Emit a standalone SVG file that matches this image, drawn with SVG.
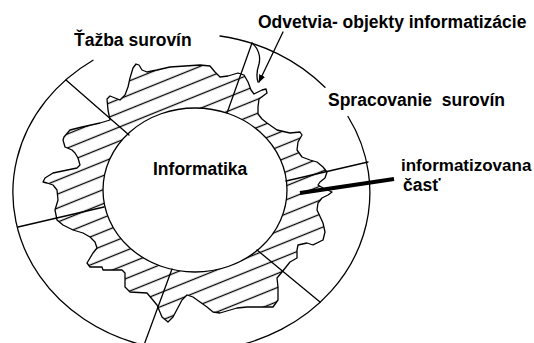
<svg xmlns="http://www.w3.org/2000/svg" width="534" height="343" viewBox="0 0 534 343">
<style>
.ln{fill:none;stroke:#000;stroke-width:1.3;stroke-linejoin:round;stroke-linecap:round}
.lbl{font-family:"Liberation Sans",Arial,sans-serif;font-weight:bold;font-size:17.5px;fill:#000}
</style>
<defs>
<pattern id="hatch" patternUnits="userSpaceOnUse" width="13" height="13" patternTransform="rotate(-22)">
<line x1="0" y1="6.5" x2="13" y2="6.5" stroke="#000" stroke-width="1.3"/>
</pattern>
<marker id="arr" viewBox="0 0 10 10" refX="9" refY="5" markerWidth="8" markerHeight="8" orient="auto" markerUnits="userSpaceOnUse">
<path d="M0,1 L10,5 L0,9 Z" fill="#000"/>
</marker>
</defs>
<rect width="534" height="343" fill="#fff"/>
<g id="outer-ring">
<path class="ln" d="M348,116.5 A178.5 158.5 0 1 1 93,60.3"/>
<path class="ln" d="M220,36 A178.5 158.5 0 0 1 325,87.3"/>
</g>
<g id="informatized-part">
<path class="ln" style="fill:url(#hatch)" d="M64,137 L70,130 82,127 100,123 110,120 108,110 107,99 110,96 115,98 120,100 125,95 128,87 130,78 133,68 136,64 139,65 142,70 147,72 157,70 170,67 185,66 200,65 210,66 215,72 220,77 228,76 238,73 244,75 248,82 251,90 254,94 258,92 262,90 266,89 267,93 263,96 259,99 258,107 258,114 262,119 267,123 277,130 290,133 300,132 302,135 298,142 297,150 302,157 310,160 317,162 323,167 327,172 325,178 320,182 318,185 323,188 332,192 328,195 322,198 318,203 317,210 323,223 325,232 323,240 313,245 307,243 298,245 297,250 297,258 290,262 282,272 277,278 278,287 278,300 273,307 247,307 237,308 220,313 213,312 207,307 200,302 193,297 187,295 182,300 173,317 168,322 162,317 157,305 147,293 130,292 125,287 125,273 122,270 103,270 102,267 90,267 87,263 93,253 97,248 95,242 90,237 83,233 73,230 63,225 57,220 55,210 58,200 57,190 53,185 47,183 43,182 45,178 53,173 77,168 80,165 78,158 75,153 72,150 65,147 63,140 Z"/>
<path class="ln" d="M252,43 C258,48 261,56 259,64 C257,70 256,76 258,82"/>
</g>
<g id="informatika">
<ellipse cx="195" cy="190" rx="92" ry="82" fill="#fff" stroke="#000" stroke-width="1.3"/>
<text class="lbl" x="153" y="175">Informatika</text>
</g>
<g id="connectors">
<line class="ln" x1="66" y1="80" x2="129" y2="135"/>
<line class="ln" x1="252" y1="43" x2="227" y2="113"/>
<line class="ln" x1="286" y1="181" x2="368" y2="162"/>
<line class="ln" x1="18" y1="227" x2="104" y2="207"/>
<line class="ln" x1="172" y1="269" x2="144" y2="345"/>
<line class="ln" x1="257" y1="250" x2="320" y2="302"/>
<line class="ln" x1="283" y1="32" x2="259" y2="82" marker-end="url(#arr)"/>
<line x1="300" y1="193" x2="394" y2="179" stroke="#000" stroke-width="4"/>
</g>
<g id="labels">
<text class="lbl" x="401" y="171" style="font-size:17px">informatizovana</text>
<text class="lbl" x="403" y="191">časť</text>
<text class="lbl" x="258" y="28">Odvetvia- objekty informatizácie</text>
<text class="lbl" x="74" y="46">Ťažba surovín</text>
<text class="lbl" x="328" y="106" xml:space="preserve">Spracovanie  surovín</text>
</g>
</svg>
